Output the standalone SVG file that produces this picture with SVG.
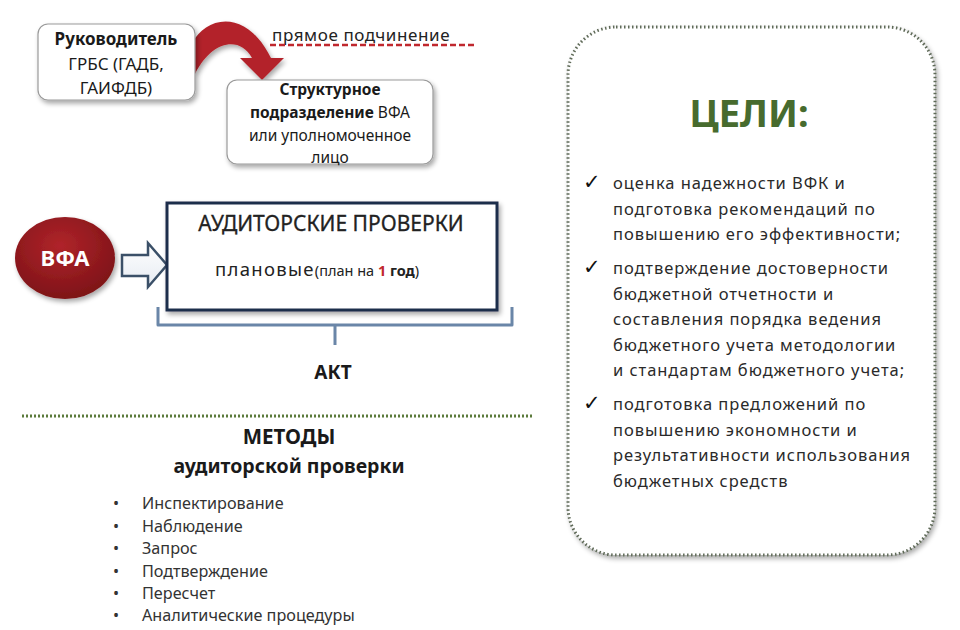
<svg xmlns="http://www.w3.org/2000/svg" width="960" height="630" viewBox="0 0 960 630">
<defs>
<filter id="sh" x="-10%" y="-10%" width="130%" height="140%"><feGaussianBlur in="SourceAlpha" stdDeviation="2.5"/><feOffset dx="2" dy="3"/><feComponentTransfer><feFuncA type="linear" slope="0.35"/></feComponentTransfer><feMerge><feMergeNode/><feMergeNode in="SourceGraphic"/></feMerge></filter>
<radialGradient id="rg" cx="45%" cy="35%" r="70%"><stop offset="0" stop-color="#b0242a"/><stop offset="1" stop-color="#7a1216"/></radialGradient>
<linearGradient id="ag" x1="0" y1="0" x2="0" y2="1"><stop offset="0" stop-color="#ffffff"/><stop offset="1" stop-color="#e6ebf2"/></linearGradient>
</defs>
<style>
text{font-family:"Noto Sans","Open Sans","DejaVu Sans",sans-serif;fill:#1a1a1a}
.b{font-weight:bold}
.c{text-anchor:middle}
.node{fill:#fff;stroke:#9a9a9a;stroke-width:1.2}
.box{font-size:17px}
.sub{font-size:15.5px}
.goal{font-size:16.5px;fill:#2a2a2a;letter-spacing:0.95px}
.li{font-size:16.2px;fill:#333}
.chk{font-size:21px;fill:#111;font-weight:bold}
</style>
<rect width="960" height="630" fill="#fff"/>

<g id="goals">
<rect x="568" y="27" width="367" height="528" rx="48" fill="#fff" stroke="#5f6a58" stroke-width="3" stroke-dasharray="1.5 2.5" filter="url(#sh)"/>
<text x="749" y="127" class="b c" style="font-size:38px;fill:#476b2e">ЦЕЛИ:</text>
<line x1="661" y1="139" x2="838" y2="139" stroke="#4a6030" stroke-width="3" filter="url(#sh)"/>
<text x="583" y="189" class="chk">✓</text>
<text x="613" y="189" class="goal">оценка надежности ВФК и</text>
<text x="613" y="215" class="goal">подготовка рекомендаций  по</text>
<text x="613" y="240" class="goal">повышению его эффективности;</text>
<text x="583" y="274" class="chk">✓</text>
<text x="613" y="274" class="goal">подтверждение достоверности</text>
<text x="613" y="300" class="goal">бюджетной отчетности и</text>
<text x="613" y="325" class="goal">составления порядка ведения</text>
<text x="613" y="351" class="goal">бюджетного учета методологии</text>
<text x="613" y="376" class="goal">и стандартам бюджетного учета;</text>
<text x="583" y="410" class="chk">✓</text>
<text x="613" y="410" class="goal">подготовка предложений по</text>
<text x="613" y="436" class="goal">повышению экономности и</text>
<text x="613" y="461" class="goal">результативности использования</text>
<text x="613" y="487" class="goal">бюджетных средств</text>
</g>

<g id="connectors">
<path d="M193,42 C205,18 245,6 271,58 L284,58 L262,80 L240,58 L252,58 C240,36 212,40 195,74 Z" fill="#b3242a" filter="url(#sh)"/>
<path d="M122,255 L148,255 L148,243 L167,265 L148,287 L148,276 L122,276 Z" fill="url(#ag)" stroke="#3b5068" stroke-width="2.5" stroke-linejoin="miter"/>
<path d="M158,307 L158,325 L512,325 L512,307 M335,325 L335,345" fill="none" stroke="#6a86a8" stroke-width="3" stroke-linejoin="round"/>
</g>

<g id="label-subordination">
<text x="272" y="41" style="font-size:17px;fill:#222;letter-spacing:0.6px">прямое подчинение</text>
<line x1="270" y1="45" x2="475" y2="45" stroke="#c0282e" stroke-width="2.5" stroke-dasharray="6 3"/>
</g>

<g id="head">
<rect x="38" y="24" width="157" height="76" rx="10" class="node" filter="url(#sh)"/>
<text x="116" y="45" class="b c box">Руководитель</text>
<text x="116" y="70" class="c box">ГРБС (ГАДБ,</text>
<text x="116" y="94" class="c box">ГАИФДБ)</text>
</g>

<g id="unit">
<rect x="227" y="80" width="206" height="84" rx="10" class="node" filter="url(#sh)"/>
<text x="330" y="95" class="b c sub">Структурное</text>
<text x="330" y="118" class="c sub"><tspan class="b">подразделение</tspan> ВФА</text>
<text x="330" y="141" class="c sub">или уполномоченное</text>
<text x="330" y="163" class="c sub">лицо</text>
</g>

<g id="vfa">
<ellipse cx="65" cy="258" rx="50" ry="41" fill="url(#rg)" filter="url(#sh)"/>
<text x="65" y="266" class="b c" style="font-size:22px;fill:#fff">ВФА</text>
</g>

<g id="audits">
<rect x="167" y="203" width="330" height="107" fill="#fff" stroke="#1f2e4c" stroke-width="3" filter="url(#sh)"/>
<text x="331" y="231" class="c" style="font-size:21px;fill:#222;stroke:#222;stroke-width:0.3">АУДИТОРСКИЕ ПРОВЕРКИ</text>
<text x="215" y="276" style="font-size:18.5px;fill:#222;letter-spacing:1.3px">плановые<tspan style="font-size:14.5px;letter-spacing:0">(план на </tspan><tspan class="b" style="font-size:14.5px;letter-spacing:0;fill:#c0282e">1</tspan><tspan class="b" style="font-size:14.5px;letter-spacing:0"> год</tspan><tspan style="font-size:14.5px;letter-spacing:0">)</tspan></text>
</g>

<g id="act">
<text x="333" y="379" class="b c" style="font-size:19px">АКТ</text>
</g>

<g id="separator">
<line x1="22" y1="416" x2="533" y2="416" stroke="#5b7a3b" stroke-width="3" stroke-dasharray="2 2"/>
</g>

<g id="methods">
<text x="289" y="444" class="b c" style="font-size:20.5px">МЕТОДЫ</text>
<text x="289" y="473" class="b c" style="font-size:19.5px">аудиторской проверки</text>
<line x1="157" y1="484" x2="408" y2="484" stroke="#4a6030" stroke-width="3" filter="url(#sh)"/>
<text x="113" y="509" class="li">•</text><text x="142" y="509" class="li">Инспектирование</text>
<text x="113" y="532" class="li">•</text><text x="142" y="532" class="li">Наблюдение</text>
<text x="113" y="554" class="li">•</text><text x="142" y="554" class="li">Запрос</text>
<text x="113" y="577" class="li">•</text><text x="142" y="577" class="li">Подтверждение</text>
<text x="113" y="599" class="li">•</text><text x="142" y="599" class="li">Пересчет</text>
<text x="113" y="621" class="li">•</text><text x="142" y="621" class="li">Аналитические процедуры</text>
</g>
</svg>
